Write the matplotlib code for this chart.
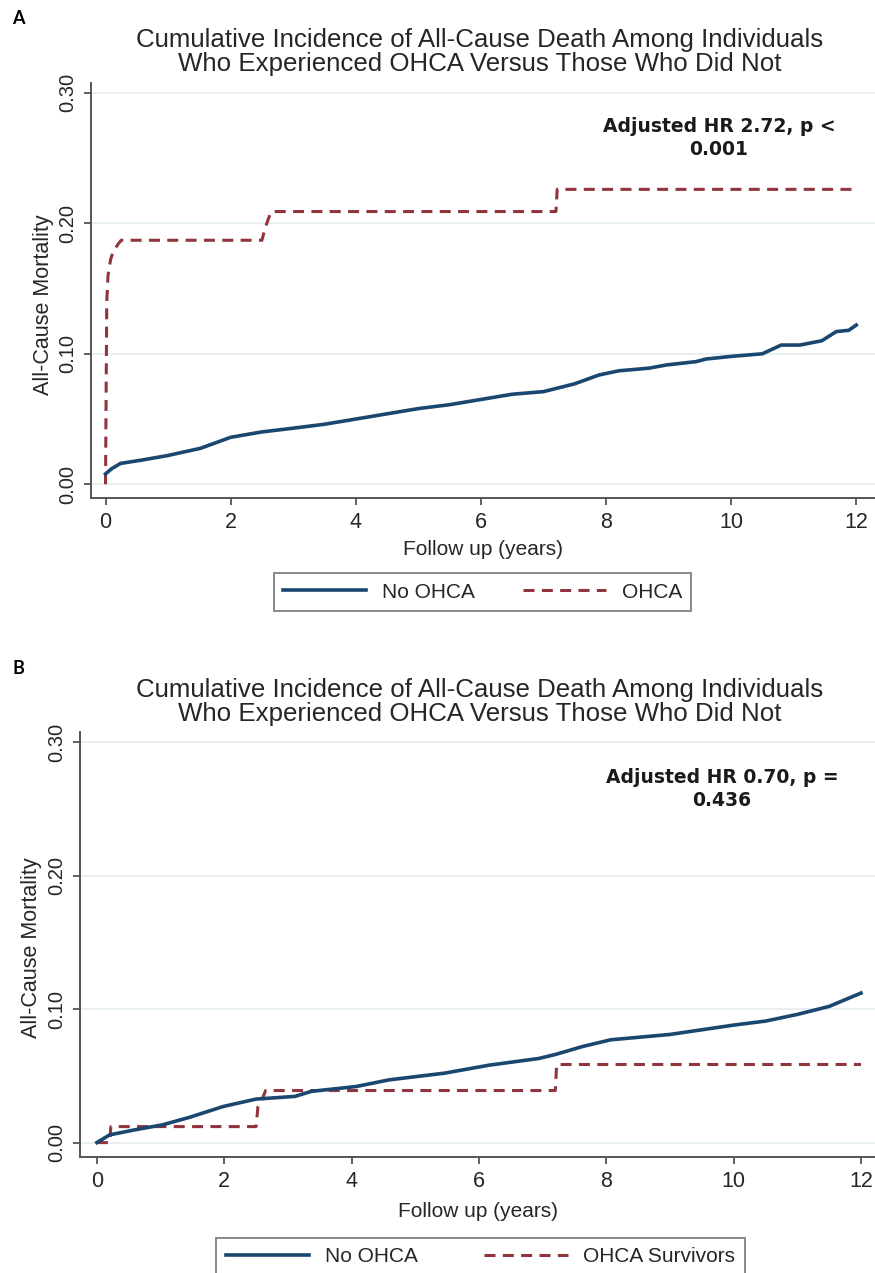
import matplotlib
matplotlib.use("Agg")
import matplotlib.pyplot as plt

# Panel A: OHCA vs no OHCA
a_no_t = [0, 0.1, 0.24, 0.56, 0.99, 1.52, 2.0, 2.48, 3.0, 3.5, 4.0, 4.5, 5.0, 5.5,
          6.0, 6.5, 7.0, 7.5, 7.89, 8.21, 8.69, 8.96, 9.44, 9.6, 10.0, 10.5, 10.8,
          11.1, 11.45, 11.68, 11.88, 12.0]
a_no_v = [0.008, 0.012, 0.016, 0.0184, 0.022, 0.0276, 0.036, 0.040, 0.043, 0.046,
          0.050, 0.054, 0.058, 0.061, 0.065, 0.069, 0.071, 0.077, 0.0838, 0.087,
          0.089, 0.0914, 0.094, 0.096, 0.098, 0.100, 0.1067, 0.1067, 0.110, 0.117,
          0.118, 0.122]
a_ohca_t = [0, 0.02, 0.04, 0.08, 0.12, 0.2, 0.25, 2.5, 2.55, 2.6, 2.65, 7.2, 7.22, 12]
a_ohca_v = [0, 0.14, 0.16, 0.172, 0.178, 0.184, 0.187, 0.187, 0.196, 0.203, 0.209,
            0.209, 0.226, 0.226]

# Panel B: OHCA survivors vs no OHCA
b_no_t = [0, 0.2, 0.59, 1.03, 1.46, 1.98, 2.5, 3.11, 3.37, 4.07, 4.59, 5.46, 6.16,
          6.94, 7.2, 7.63, 8.07, 9.0, 10.0, 10.5, 11.0, 11.5, 11.8, 12.0]
b_no_v = [0, 0.0058, 0.0095, 0.0133, 0.019, 0.027, 0.0326, 0.0346, 0.0384, 0.042,
          0.047, 0.052, 0.058, 0.063, 0.066, 0.072, 0.077, 0.081, 0.088, 0.091,
          0.096, 0.102, 0.108, 0.112]
b_ohca_t = [0, 0.2, 0.22, 2.5, 2.53, 2.6, 2.65, 7.2, 7.22, 12]
b_ohca_v = [0, 0, 0.012, 0.012, 0.027, 0.033, 0.039, 0.039, 0.0585, 0.0585]

y_ticks = [0, 0.1, 0.2, 0.3]
y_ticklabels = ["0.00", "0.10", "0.20", "0.30"]
x_ticks = [0, 2, 4, 6, 8, 10, 12]

title = "Cumulative Incidence of All-Cause Death Among Individuals\nWho Experienced OHCA Versus Those Who Did Not"

BLUE = "#1a476f"
RED = "#90353b"
GRID = "#e6eef0"
SPINE = "#555555"
TXT = "#262626"
FONT = ["Liberation Sans", "DejaVu Sans"]

plt.rcParams["font.family"] = FONT

fig = plt.figure(figsize=(8.75, 12.73), dpi=100)


def panel(rect, xlim, ylim, no_t, no_v, oh_t, oh_v, xlab_y, ylab_xy):
    ax = fig.add_axes(rect)
    ax.set_xlim(*xlim)
    ax.set_ylim(*ylim)
    for y in y_ticks:
        ax.axhline(y, color=GRID, lw=1.3, zorder=0)
    l1, = ax.plot(no_t, no_v, color=BLUE, lw=2.6, solid_joinstyle="round", zorder=3)
    l2, = ax.plot(oh_t, oh_v, color=RED, lw=2.2, linestyle=(0, (3.6, 2.4)), zorder=2)
    for s in ["top", "right"]:
        ax.spines[s].set_visible(False)
    for s in ["left", "bottom"]:
        ax.spines[s].set_color(SPINE)
        ax.spines[s].set_linewidth(1.4)
    ax.set_yticks(y_ticks)
    ax.set_yticklabels(y_ticklabels, rotation=90, va="center")
    ax.set_xticks(x_ticks)
    ax.tick_params(axis="both", colors=SPINE, length=5, width=1.3, labelcolor=TXT)
    ax.tick_params(axis="x", pad=5, labelsize=15.5)
    ax.tick_params(axis="y", pad=5, labelsize=14.5)
    ax.set_xlabel("Follow up (years)", fontsize=15, color=TXT)
    ax.set_ylabel("All-Cause Mortality", fontsize=15.5, color=TXT)
    ax.xaxis.set_label_coords(0.5, xlab_y)
    ax.yaxis.set_label_coords(*ylab_xy)
    return ax, l1, l2


H = 1273.0
W = 875.0

axA, a1, a2 = panel([91 / W, 1 - 498 / H, (875 - 91) / W, (498 - 83) / H],
                    (-0.232, 12.30), (-0.0105, 0.3075),
                    a_no_t, a_no_v, a_ohca_t, a_ohca_v, -0.102, (-0.047, 0.465))
axB, b1, b2 = panel([80 / W, 1 - 1157.3 / H, (875 - 80) / W, (1157.3 - 732) / H],
                    (-0.265, 12.22), (-0.011, 0.3075),
                    b_no_t, b_no_v, b_ohca_t, b_ohca_v, -0.106, (-0.048, 0.494))

# titles and panel letters
fig.text(480 / W, 1 - 52 / H, title, ha="center", va="center", fontsize=18.6,
         color=TXT, linespacing=1.0)
fig.text(480 / W, 1 - 702 / H, title, ha="center", va="center", fontsize=18.6,
         color=TXT, linespacing=1.0)
fig.text(12 / W, 1 - 18 / H, "A", ha="left", va="center", fontsize=13,
         fontweight="bold", family=["Lato", "DejaVu Sans"])
fig.text(12 / W, 1 - 668 / H, "B", ha="left", va="center", fontsize=13,
         fontweight="bold", family=["Lato", "DejaVu Sans"])

# hazard ratio annotations
fig.text(719 / W, 1 - 138 / H, "Adjusted HR 2.72, p <\n0.001", ha="center",
         va="center", fontsize=13.5, fontweight="bold", family="DejaVu Sans",
         color="#1a1a1a", linespacing=1.3)
fig.text(722 / W, 1 - 789 / H, "Adjusted HR 0.70, p =\n0.436", ha="center",
         va="center", fontsize=13.5, fontweight="bold", family="DejaVu Sans",
         color="#1a1a1a", linespacing=1.3)

leg_kw = dict(loc="center", ncol=2, fontsize=15, frameon=True, fancybox=False,
              edgecolor="#6a6a6a", borderpad=0.45, handlelength=4.0,
              handletextpad=0.75, labelcolor=TXT)
lgA = fig.legend([a1, a2], ["No OHCA", "OHCA"], bbox_to_anchor=(482.5 / W, 1 - 592 / H),
                 columnspacing=2.3, **leg_kw)
lgB = fig.legend([b1, b2], ["No OHCA", "OHCA Survivors"],
                 bbox_to_anchor=(480.5 / W, 1 - 1257 / H), columnspacing=3.2, **leg_kw)
for lg in (lgA, lgB):
    lg.get_frame().set_linewidth(1.4)

fig.savefig("out.png", dpi=100)
